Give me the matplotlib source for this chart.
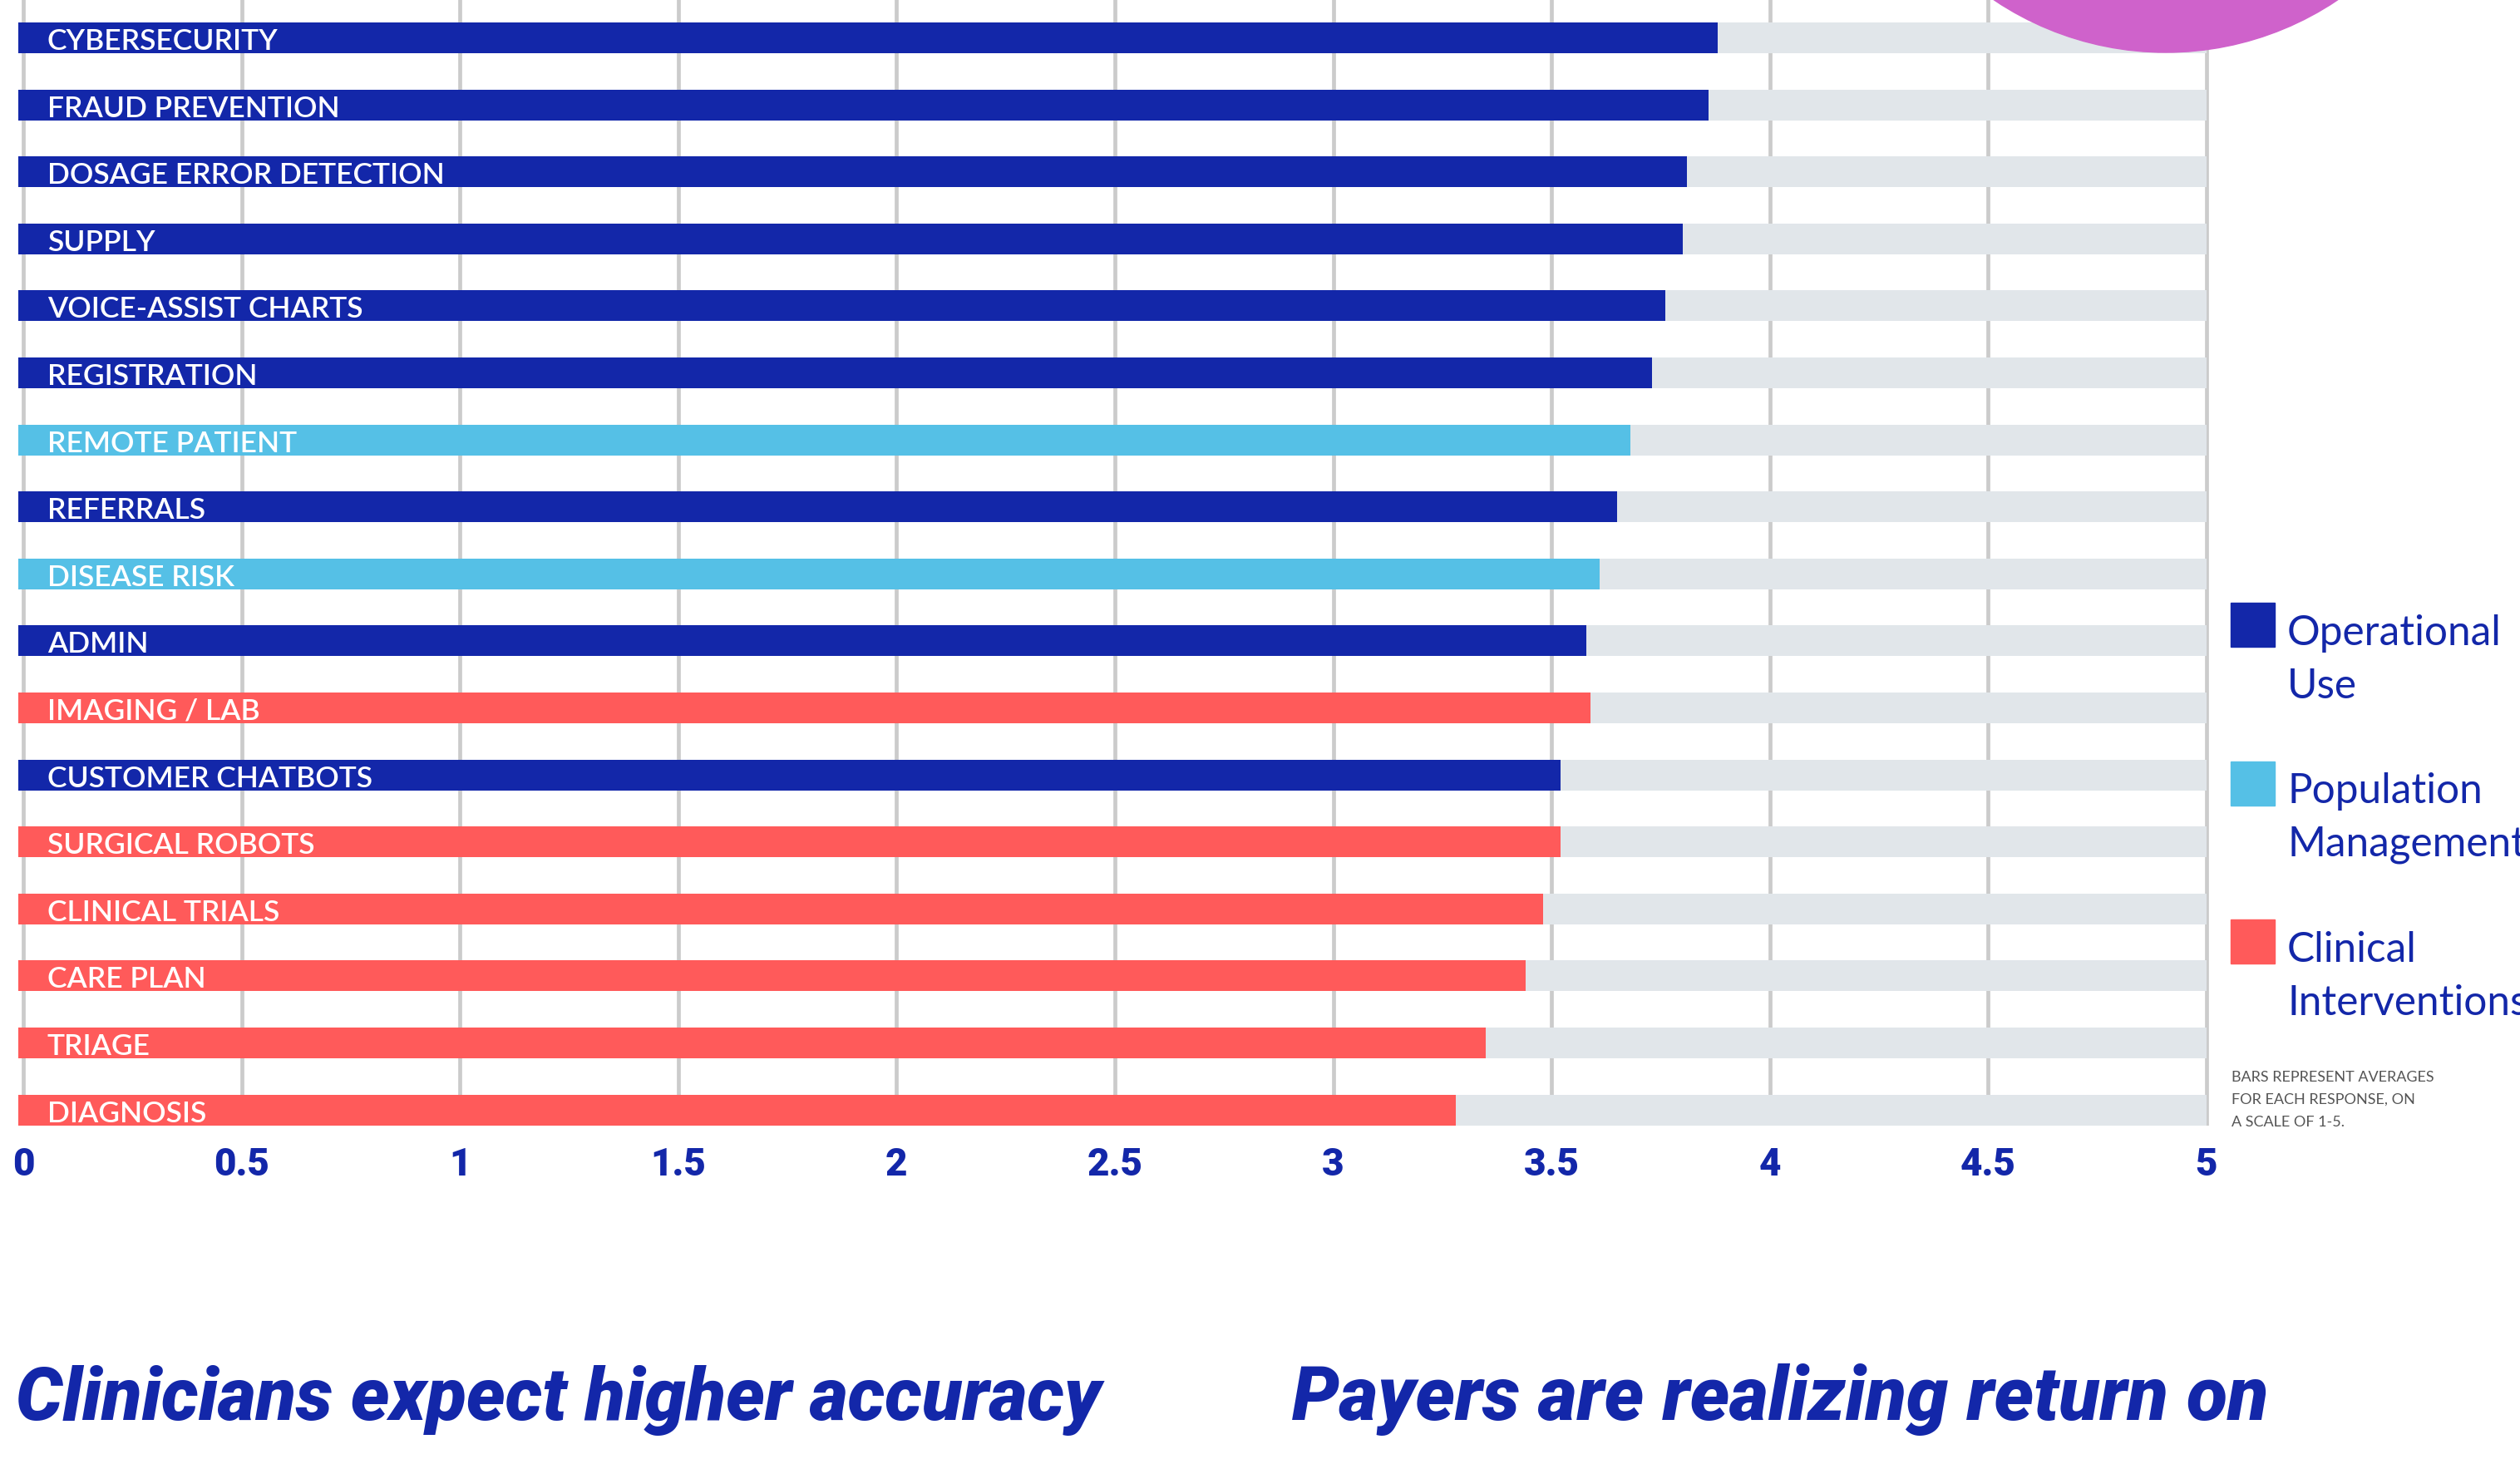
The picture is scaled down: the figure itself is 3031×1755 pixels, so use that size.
import numpy as np
import matplotlib
matplotlib.use("Agg")
import matplotlib.pyplot as plt
from matplotlib import font_manager as fm
from matplotlib.patches import Circle, Rectangle

# ---------------- data ----------------
categories = ["CYBERSECURITY", "FRAUD PREVENTION", "DOSAGE ERROR DETECTION", "SUPPLY",
              "VOICE-ASSIST CHARTS", "REGISTRATION", "REMOTE PATIENT", "REFERRALS",
              "DISEASE RISK", "ADMIN", "IMAGING / LAB", "CUSTOMER CHATBOTS",
              "SURGICAL ROBOTS", "CLINICAL TRIALS", "CARE PLAN", "TRIAGE", "DIAGNOSIS"]
values = [3.88, 3.86, 3.81, 3.80, 3.76, 3.73, 3.68, 3.65, 3.61, 3.58, 3.59, 3.52,
          3.52, 3.48, 3.44, 3.35, 3.28]
groups = ["Operational Use", "Operational Use", "Operational Use", "Operational Use",
          "Operational Use", "Operational Use", "Population Management", "Operational Use",
          "Population Management", "Operational Use", "Clinical Interventions",
          "Operational Use", "Clinical Interventions", "Clinical Interventions",
          "Clinical Interventions", "Clinical Interventions", "Clinical Interventions"]
scale_max = 5
tick_values = [0, 0.5, 1, 1.5, 2, 2.5, 3, 3.5, 4, 4.5, 5]
tick_labels = ["0", "0.5", "1", "1.5", "2", "2.5", "3", "3.5", "4", "4.5", "5"]
legend_labels = [("Operational", "Use"), ("Population", "Management"),
                 ("Clinical", "Interventions")]
legend_groups = ["Operational Use", "Population Management", "Clinical Interventions"]
note_lines = ["BARS REPRESENT AVERAGES", "FOR EACH RESPONSE, ON", "A SCALE OF 1-5."]
headline_left = "Clinicians expect higher accuracy"
headline_right = "Payers are realizing return on"

# ---------------- style ----------------
NAVY = "#1327A9"
COLORS = {"Operational Use": "#1327A9", "Population Management": "#55C0E6",
          "Clinical Interventions": "#FF5A5A"}
TRACK = "#E1E6EA"
GRID = "#CBCBCB"
PINK = "#CF62CB"

names = {f.name for f in fm.fontManager.ttflist}
def pick(*cands):
    for c in cands:
        if c in names:
            return c
    return "DejaVu Sans"

F_LABEL = pick("Lato", "Open Sans", "Noto Sans")
F_TICK = pick("Liberation Sans Narrow", "Roboto", "Lato")
F_HEAD = pick("Liberation Sans Narrow", "Roboto", "Lato")
F_LEG = pick("Lato", "Open Sans", "Noto Sans")

W, H, DPI = 3031, 1756, 100
fig = plt.figure(figsize=(W / DPI, H / DPI), dpi=DPI)
fig.patch.set_facecolor("white")

# pixel geometry of the chart area
x0_px, unit_px = 28.0, 525.2
row0_px, row_px = 46.5, 80.6
ax_bottom_px = 1355.0

ax = fig.add_axes([0, 1 - ax_bottom_px / H, 1, ax_bottom_px / H])
ax.set_xlim(-x0_px / unit_px, (W - x0_px) / unit_px)
ax.set_ylim((ax_bottom_px - row0_px) / row_px, -row0_px / row_px)
for s in ax.spines.values():
    s.set_visible(False)
ax.set_facecolor("none")

ypos = np.arange(len(categories))
bar_h = 37 / row_px
lead = 6 / unit_px  # bars start slightly left of zero

ax.barh(ypos, scale_max + lead, left=-lead, height=bar_h, color=TRACK, zorder=2)
ax.barh(ypos, np.array(values) + lead, left=-lead, height=bar_h,
        color=[COLORS[g] for g in groups], zorder=3)

for y, lab in zip(ypos, categories):
    ax.text(0.055, y + 13.5 / row_px, lab, color="white", fontsize=25.5,
            family=F_LABEL, fontweight="semibold", va="baseline", ha="left", zorder=4)

ax.set_xticks(tick_values)
ax.set_xticklabels(tick_labels, fontsize=33, family=F_TICK, fontweight="heavy",
                   color=NAVY)
ax.tick_params(axis="x", length=0, pad=17)
ax.set_yticks([])
ax.grid(axis="x", color=GRID, linewidth=3.4, zorder=0)
ax.set_axisbelow(True)

# ---------------- overlay in pixel coordinates ----------------
ov = fig.add_axes([0, 0, 1, 1], zorder=5)
ov.set_xlim(0, W)
ov.set_ylim(H, 0)
ov.axis("off")
ov.patch.set_alpha(0)

ov.add_patch(Circle((2605, -306), 370, color=PINK, zorder=1))

renderer = fig.canvas.get_renderer()
def fit(t, target):
    w = t.get_window_extent(renderer).width
    t.set_fontsize(t.get_fontsize() * target / w)

# legend text size fitted so that "Operational" spans the reference width
probe = ov.text(0, 0, legend_labels[0][0], fontsize=40, family=F_LEG)
fit(probe, 258)
leg_fs = probe.get_fontsize()
probe.remove()

sq_tops = [726, 917, 1107]
base1 = [776, 966, 1157]
for g, (l1, l2), t, b in zip(legend_groups, legend_labels, sq_tops, base1):
    ov.add_patch(Rectangle((2683, t), 53, 53, color=COLORS[g]))
    ov.text(2751, b, l1, fontsize=leg_fs, family=F_LEG, color=NAVY, va="baseline")
    ov.text(2751, b + 64, l2, fontsize=leg_fs, family=F_LEG, color=NAVY, va="baseline")

for k, line in enumerate(note_lines):
    ov.text(2684, 1301 + 27 * k, line, fontsize=13, family=F_LEG, color="#555555",
            va="baseline")

h1 = ov.text(19, 1708, headline_left, fontsize=64, family=F_HEAD, fontweight="heavy",
             style="italic", color=NAVY, va="baseline")
h2 = ov.text(1554, 1708, headline_right, fontsize=64, family=F_HEAD, fontweight="heavy",
             style="italic", color=NAVY, va="baseline")
fit(h1, 1306)
fit(h2, 1174)

fig.savefig("out.png", dpi=DPI, facecolor="white")
